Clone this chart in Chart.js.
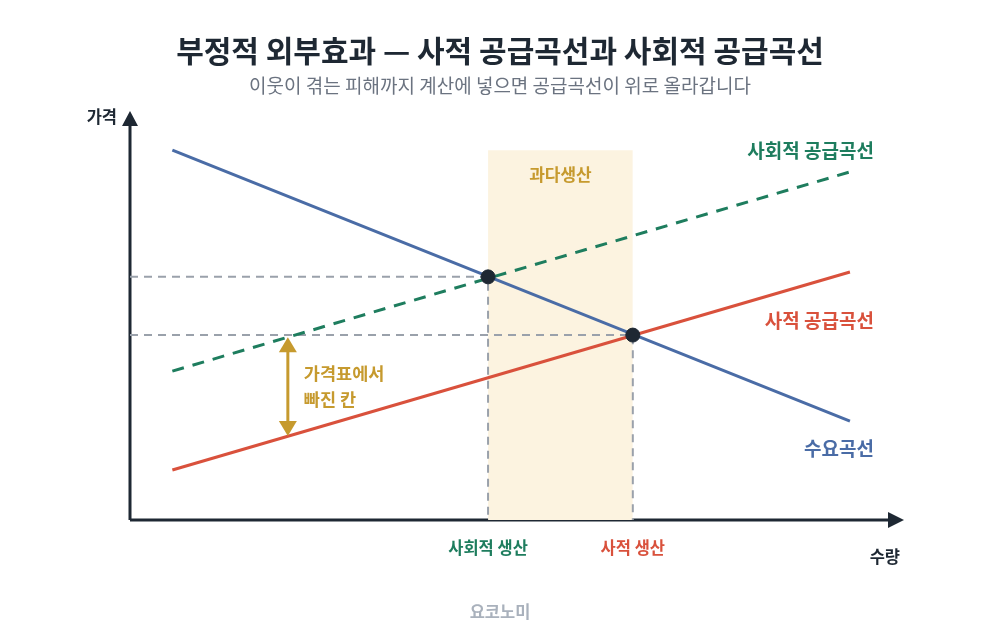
<!DOCTYPE html>
<html lang="ko">
<head>
<meta charset="utf-8">
<script src="https://cdn.jsdelivr.net/npm/chart.js@4.4.1/dist/chart.umd.min.js"></script>
<style>
  html, body { margin: 0; padding: 0; background: #fff; }
  #wrap { width: 1000px; height: 640px; position: relative; }
</style>
</head>
<body>
<div id="wrap"><canvas id="chart" width="1000" height="640"></canvas></div>
<script>
// 값들 (축 0~100 기준)
const qEnds = [5.5, 93.5];
const demandP = [90.2, 24.1];
const privateP = [12.2, 60.5];
const socialP = [36.3, 84.9];
const eqSocial = [46.5, 59.3];
const eqPrivate = [65.3, 45.1];
const shadeTop = 90.2;
const gapQ = 20.5;
const gapP = [44.6, 20.5];

const titleText = "부정적 외부효과 — 사적 공급곡선과 사회적 공급곡선";
const subText = "이웃이 겪는 피해까지 계산에 넣으면 공급곡선이 위로 올라갑니다";
const curveLabels = ["사회적 공급곡선", "사적 공급곡선", "수요곡선"];
const qtyLabels = ["사회적 생산", "사적 생산"];
const gapLabel = ["가격표에서", "빠진 칸"];
const shadeLabel = "과다생산";
const axisLabels = ["가격", "수량"];
const sourceText = "요코노미";

const BLUE = "#4a6ca6", RED = "#d9513c", GREEN = "#1e7d5e", GOLD = "#c69a2e";
const DARK = "#1e2833", GRAY = "#9aa1ab", SHADE = "#fcf3e0";
const FONT = "'Noto Sans CJK KR', 'Noto Sans', sans-serif";

const line = (xs, ys) => xs.map((x, i) => ({ x: x, y: ys[i] }));

const overlay = {
  id: 'overlay',
  beforeDatasetsDraw(chart) {
    const { ctx, chartArea: a } = chart;
    ctx.save();
    ctx.strokeStyle = DARK;
    ctx.fillStyle = DARK;
    ctx.lineWidth = 3;
    // 축
    ctx.beginPath();
    ctx.moveTo(a.left, a.bottom);
    ctx.lineTo(a.left, a.top + 10);
    ctx.moveTo(a.left, a.bottom);
    ctx.lineTo(a.right - 8, a.bottom);
    ctx.stroke();
    ctx.beginPath();
    ctx.moveTo(a.left, a.top + 1);
    ctx.lineTo(a.left - 8, a.top + 16);
    ctx.lineTo(a.left + 8, a.top + 16);
    ctx.closePath();
    ctx.fill();
    ctx.beginPath();
    ctx.moveTo(a.right + 4, a.bottom);
    ctx.lineTo(a.right - 12, a.bottom - 8);
    ctx.lineTo(a.right - 12, a.bottom + 8);
    ctx.closePath();
    ctx.fill();
    ctx.restore();
  },
  afterDatasetsDraw(chart) {
    const { ctx, chartArea: a, scales: { x, y } } = chart;
    ctx.save();
    // 금색 화살표
    const ax = x.getPixelForValue(gapQ);
    const y1 = y.getPixelForValue(gapP[0]);
    const y2 = y.getPixelForValue(gapP[1]);
    ctx.strokeStyle = GOLD;
    ctx.fillStyle = GOLD;
    ctx.lineWidth = 3;
    ctx.beginPath();
    ctx.moveTo(ax, y1 + 12);
    ctx.lineTo(ax, y2 - 12);
    ctx.stroke();
    ctx.beginPath();
    ctx.moveTo(ax, y1); ctx.lineTo(ax - 9, y1 + 15); ctx.lineTo(ax + 9, y1 + 15); ctx.closePath();
    ctx.fill();
    ctx.beginPath();
    ctx.moveTo(ax, y2); ctx.lineTo(ax - 9, y2 - 15); ctx.lineTo(ax + 9, y2 - 15); ctx.closePath();
    ctx.fill();

    ctx.textBaseline = 'middle';
    ctx.font = "bold 17.5px " + FONT;
    ctx.textAlign = 'left';
    ctx.fillText(gapLabel[0], ax + 16, 373);
    ctx.fillText(gapLabel[1], ax + 16, 399);

    ctx.textAlign = 'center';
    ctx.font = "bold 17px " + FONT;
    ctx.fillText(shadeLabel, (x.getPixelForValue(eqSocial[0]) + x.getPixelForValue(eqPrivate[0])) / 2, 175);

    // 곡선 이름
    ctx.font = "bold 19px " + FONT;
    ctx.textAlign = 'right';
    ctx.fillStyle = GREEN; ctx.fillText(curveLabels[0], 874, 151);
    ctx.fillStyle = RED; ctx.fillText(curveLabels[1], 874, 321);
    ctx.fillStyle = BLUE; ctx.fillText(curveLabels[2], 874, 449);

    // 수량 라벨
    ctx.font = "bold 16.5px " + FONT;
    ctx.textAlign = 'center';
    ctx.fillStyle = GREEN; ctx.fillText(qtyLabels[0], x.getPixelForValue(eqSocial[0]), 548);
    ctx.fillStyle = RED; ctx.fillText(qtyLabels[1], x.getPixelForValue(eqPrivate[0]), 548);

    // 축 이름
    ctx.fillStyle = DARK;
    ctx.font = "bold 16.5px " + FONT;
    ctx.textAlign = 'right';
    ctx.fillText(axisLabels[0], 117, 117);
    ctx.fillText(axisLabels[1], 900, 557);

    // 제목
    ctx.textAlign = 'center';
    ctx.font = "bold 30px " + FONT;
    ctx.fillText(titleText, 500, 51);
    ctx.fillStyle = "#6b7380";
    ctx.font = "19px " + FONT;
    ctx.fillText(subText, 500, 86);
    ctx.fillStyle = "#a9b1bc";
    ctx.font = "bold 16.5px " + FONT;
    ctx.fillText(sourceText, 500, 612);
    ctx.restore();
  }
};

new Chart(document.getElementById("chart"), {
  type: 'line',
  data: {
    datasets: [
      { // 과다생산 영역
        data: line([eqSocial[0], eqPrivate[0]], [shadeTop, shadeTop]),
        borderWidth: 0, pointRadius: 0, backgroundColor: SHADE, fill: 'origin', order: 10
      },
      {
        data: line([0, eqSocial[0], eqSocial[0]], [eqSocial[1], eqSocial[1], 0]),
        borderColor: GRAY, borderWidth: 2, borderDash: [8, 6], pointRadius: 0, fill: false, order: 9
      },
      {
        data: line([0, eqPrivate[0], eqPrivate[0]], [eqPrivate[1], eqPrivate[1], 0]),
        borderColor: GRAY, borderWidth: 2, borderDash: [8, 6], pointRadius: 0, fill: false, order: 9
      },
      {
        data: line(qEnds, socialP),
        borderColor: GREEN, borderWidth: 3, borderDash: [12, 9], pointRadius: 0, fill: false, order: 5
      },
      {
        data: line(qEnds, privateP),
        borderColor: RED, borderWidth: 3, pointRadius: 0, fill: false, order: 5
      },
      {
        data: line(qEnds, demandP),
        borderColor: BLUE, borderWidth: 3, pointRadius: 0, fill: false, order: 4
      },
      {
        data: [{ x: eqSocial[0], y: eqSocial[1] }, { x: eqPrivate[0], y: eqPrivate[1] }],
        showLine: false, pointRadius: 7, pointBackgroundColor: DARK, pointBorderColor: DARK, order: 1
      }
    ]
  },
  options: {
    responsive: false,
    animation: false,
    layout: { padding: { left: 130, right: 100, top: 110, bottom: 120 } },
    scales: {
      x: { type: 'linear', min: 0, max: 100, display: false },
      y: { type: 'linear', min: 0, max: 100, display: false }
    },
    plugins: { legend: { display: false }, tooltip: { enabled: false } }
  },
  plugins: [overlay]
});
</script>
</body>
</html>
